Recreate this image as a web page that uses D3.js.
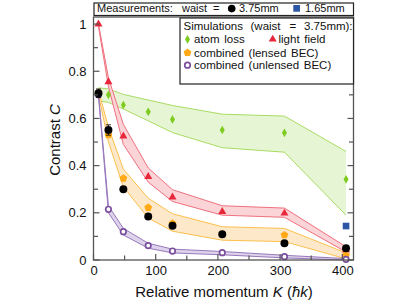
<!DOCTYPE html>
<html>
<head>
<meta charset="utf-8">
<script src="https://cdn.jsdelivr.net/npm/d3@7"></script>
<style>
  body { margin: 0; background: #fff; }
  svg { display: block; font-family: "Liberation Sans", "DejaVu Sans", sans-serif; }
</style>
</head>
<body>
<div id="chart"></div>
<script>
// momentum values K (hbar k) where measurements / simulations were taken
const momentum = [8, 24, 48, 88, 127, 207, 307, 406];

// measurements, waist 3.75mm
const measured = [0.707, 0.551, 0.300, 0.184, 0.145, 0.109, 0.071, 0.050];
const measuredErr = [0.018, 0.022, 0, 0, 0, 0, 0, 0];
// measurement, waist 1.65mm (only last K)
const measuredSmall = [{ k: 406, c: 0.144 }];

// simulations: points, upper and lower band edges
const atomLoss = [null, 0.700, 0.657, 0.628, 0.596, 0.551, 0.539, 0.342];
const atomLossHi = [0.730, 0.725, 0.702, 0.678, 0.655, 0.618, 0.610, 0.460];
const atomLossLo = [0.675, 0.668, 0.640, 0.590, 0.540, 0.476, 0.457, 0.190];

const lightField = [1.0, 0.755, 0.525, 0.353, 0.266, 0.205, 0.198, 0.042];
const lightFieldHi = [1.0, 0.772, 0.575, 0.390, 0.298, 0.230, 0.220, 0.056];
const lightFieldLo = [0.99, 0.735, 0.490, 0.330, 0.248, 0.190, 0.181, 0.034];

const lensed = [0.710, 0.530, 0.346, 0.222, 0.155, 0.109, 0.106, 0.020];
const lensedHi = [0.720, 0.562, 0.385, 0.262, 0.196, 0.141, 0.134, 0.030];
const lensedLo = [0.700, 0.500, 0.310, 0.178, 0.122, 0.084, 0.078, 0.005];

const unlensed = [0.700, 0.215, 0.120, 0.061, 0.038, 0.031, 0.014, 0.003];
const unlensedHi = [0.705, 0.230, 0.134, 0.071, 0.046, 0.036, 0.020, 0.006];
const unlensedLo = [0.695, 0.200, 0.106, 0.050, 0.030, 0.022, 0.009, 0.000];

const xTicks = [0, 100, 200, 300, 400];
const yTicks = [0, 0.2, 0.4, 0.6, 0.8, 1];

const W = 415, H = 308;
const col = {
    green: '#7dcc1f', greenFill: '#e6f6d4', greenLine: '#a9dc62',
    red: '#e8283a', redFill: '#fbd4d7', redLine: '#f0707e',
    orange: '#ffaa16', orangeFill: '#fde9ca', orangeLine: '#fcc04c',
    purple: '#7b4f9e', purpleFill: '#ddd3ea', purpleLine: '#9878bd',
    blue: '#2c57a6', axis: '#555'
};

const svg = d3.select('#chart').append('svg')
    .attr('width', W)
    .attr('height', H);

const x = d3.scaleLinear().domain([0, 418]).range([93.5, 353.5]);
const y = d3.scaleLinear().domain([0, 1.03]).range([260, 17]);

// pentagon symbol
const symbolPentagon = {
    draw(ctx, size) {
        const r = Math.sqrt(size / 2.378);
        for (let i = 0; i < 5; i++) {
            const a = -Math.PI / 2 + i * 2 * Math.PI / 5;
            const px = r * Math.cos(a), py = r * Math.sin(a);
            if (0 === i) ctx.moveTo(px, py); else ctx.lineTo(px, py);
        }
        ctx.closePath();
    }
};

// bands
function drawBand(hi, lo, fill, line) {
    const pts = momentum.map((k, i) => ({ k, hi: hi[i], lo: lo[i] }));
    svg.append('path')
        .datum(pts)
        .attr('fill', fill)
        .attr('d', d3.area().x(d => x(d.k)).y0(d => y(d.lo)).y1(d => y(d.hi)));
    [hi, lo].forEach(arr => {
        svg.append('path')
            .datum(momentum.map((k, i) => [k, arr[i]]))
            .attr('fill', 'none')
            .attr('stroke', line)
            .attr('stroke-width', 1)
            .attr('d', d3.line().x(d => x(d[0])).y(d => y(d[1])));
    });
}

drawBand(atomLossHi, atomLossLo, col.greenFill, col.greenLine);
drawBand(lightFieldHi, lightFieldLo, col.redFill, col.redLine);
drawBand(lensedHi, lensedLo, col.orangeFill, col.orangeLine);
drawBand(unlensedHi, unlensedLo, col.purpleFill, col.purpleLine);

// markers
function drawMarkers(vals, type, size, fill, stroke, sw) {
    svg.append('g')
        .selectAll('path')
        .data(momentum.map((k, i) => ({ k, c: vals[i] })).filter(d => d.c !== null))
        .join('path')
        .attr('transform', d => `translate(${x(d.k)},${y(d.c)})`)
        .attr('d', d3.symbol().type(type).size(size))
        .attr('fill', fill)
        .attr('stroke', stroke || 'none')
        .attr('stroke-width', sw || 0);
}

drawMarkers(atomLoss, d3.symbolDiamond, 22, col.green);
drawMarkers(lightField, d3.symbolTriangle, 28, col.red);
drawMarkers(lensed, symbolPentagon, 40, col.orange);
drawMarkers(unlensed, d3.symbolCircle, 24, '#fff', col.purple, 1.7);

// error bars
const errG = svg.append('g').attr('stroke', '#000').attr('stroke-width', 0.8);
momentum.forEach((k, i) => {
    const e = measuredErr[i];
    if (!e) return;
    const cx = x(k);
    errG.append('line').attr('x1', cx).attr('x2', cx).attr('y1', y(measured[i] - e)).attr('y2', y(measured[i] + e));
    [measured[i] - e, measured[i] + e].forEach(v => {
        errG.append('line').attr('x1', cx - 2.5).attr('x2', cx + 2.5).attr('y1', y(v)).attr('y2', y(v));
    });
});

drawMarkers(measured, d3.symbolCircle, 50, '#000');

svg.append('g')
    .selectAll('path')
    .data(measuredSmall)
    .join('path')
    .attr('transform', d => `translate(${x(d.k)},${y(d.c)})`)
    .attr('d', d3.symbol().type(d3.symbolSquare).size(44))
    .attr('fill', col.blue);

// axes, ticks inward on all sides
const gx = svg.append('g').attr('transform', `translate(0,${y(0)})`)
    .call(d3.axisBottom(x).tickValues(xTicks).tickSize(0).tickPadding(6).tickFormat(d3.format('d')));
const gy = svg.append('g').attr('transform', `translate(${x(0)},0)`)
    .call(d3.axisLeft(y).tickValues(yTicks).tickSize(0).tickPadding(7).tickFormat(d => d));
[gx, gy].forEach(g => {
    g.select('.domain').remove();
    g.selectAll('text').attr('font-size', 13).attr('fill', '#111').attr('font-family', 'Liberation Sans, sans-serif');
});

const tickG = svg.append('g').attr('stroke', col.axis).attr('stroke-width', 1.2);
d3.range(0, 401, 50).forEach(v => {
    const len = v % 100 === 0 ? 6 : 4.5;
    tickG.append('line').attr('x1', x(v)).attr('x2', x(v)).attr('y1', y(0)).attr('y2', y(0) - len);
});
d3.range(0, 1.01, 0.1).forEach(v => {
    const len = Math.round(v * 10) % 2 === 0 ? 6 : 4.5;
    tickG.append('line').attr('x1', x(0)).attr('x2', x(0) + len).attr('y1', y(v)).attr('y2', y(v));
    tickG.append('line').attr('x1', x(418)).attr('x2', x(418) - len).attr('y1', y(v)).attr('y2', y(v));
});

svg.append('rect')
    .attr('x', x(0)).attr('y', y(1.03))
    .attr('width', x(418) - x(0)).attr('height', y(0) - y(1.03))
    .attr('fill', 'none').attr('stroke', col.axis).attr('stroke-width', 1.3);

// axis titles
const xt = svg.append('text')
    .attr('x', 224).attr('y', 297)
    .attr('text-anchor', 'middle')
    .attr('font-size', 15).attr('fill', '#111');
xt.append('tspan').text('Relative momentum ');
xt.append('tspan').attr('font-style', 'italic').text('K');
xt.append('tspan').text(' (');
xt.append('tspan').attr('font-style', 'italic').text('ħk');
xt.append('tspan').text(')');

const yt = svg.append('text')
    .attr('transform', `translate(60,140) rotate(-90)`)
    .attr('text-anchor', 'middle')
    .attr('font-size', 15).attr('fill', '#111');
yt.append('tspan').text('Contrast ');
yt.append('tspan').attr('font-style', 'italic').text('C');

// measurement legend box
svg.append('rect')
    .attr('x', 94).attr('y', 3).attr('width', 259.5).attr('height', 12.5)
    .attr('fill', '#fff').attr('stroke', '#222').attr('stroke-width', 1.2);
const mLeg = svg.append('g').attr('font-size', 11).attr('fill', '#111');
mLeg.append('text').attr('x', 97).attr('y', 12.4).text('Measurements:');
mLeg.append('text').attr('x', 182).attr('y', 12.4).text('waist');
mLeg.append('text').attr('x', 213).attr('y', 12.4).text('=');
mLeg.append('circle').attr('cx', 231.7).attr('cy', 8.6).attr('r', 3.8).attr('fill', '#000');
mLeg.append('text').attr('x', 239).attr('y', 12.4).text('3.75mm');
mLeg.append('rect').attr('x', 293.3).attr('y', 5).attr('width', 6.7).attr('height', 6.7).attr('fill', col.blue);
mLeg.append('text').attr('x', 305).attr('y', 12.4).text('1.65mm');

// simulations legend box
svg.append('rect')
    .attr('x', 180).attr('y', 18).attr('width', 173.5).attr('height', 66)
    .attr('fill', '#fff').attr('stroke', '#222').attr('stroke-width', 1.2);
const sLeg = svg.append('g').attr('font-size', 11.5).attr('fill', '#111');
sLeg.append('text').attr('x', 183.5).attr('y', 30).text('Simulations');
sLeg.append('text').attr('x', 250.5).attr('y', 30).text('(waist');
sLeg.append('text').attr('x', 289.5).attr('y', 30).text('=');
sLeg.append('text').attr('x', 304).attr('y', 30).text('3.75mm):');

const legItems = [
    { lx: 187.5, ly: 39.3, tx: 194, text: 'atom loss', type: d3.symbolDiamond, size: 22, fill: col.green },
    { lx: 272.7, ly: 39.3, tx: 278.5, text: 'light field', type: d3.symbolTriangle, size: 28, fill: col.red },
    { lx: 187.5, ly: 52.7, tx: 194, text: 'combined (lensed BEC)', type: symbolPentagon, size: 40, fill: col.orange },
    { lx: 187.5, ly: 65.2, tx: 194, text: 'combined (unlensed BEC)', type: d3.symbolCircle, size: 24, fill: '#fff', stroke: col.purple }
];
legItems.forEach(it => {
    sLeg.append('path')
        .attr('transform', `translate(${it.lx},${it.ly})`)
        .attr('d', d3.symbol().type(it.type).size(it.size))
        .attr('fill', it.fill)
        .attr('stroke', it.stroke || 'none')
        .attr('stroke-width', it.stroke ? 1.7 : 0);
    sLeg.append('text').attr('x', it.tx).attr('y', it.ly + 4.1)
        .attr('word-spacing', 1.5).text(it.text);
});
</script>
</body>
</html>
